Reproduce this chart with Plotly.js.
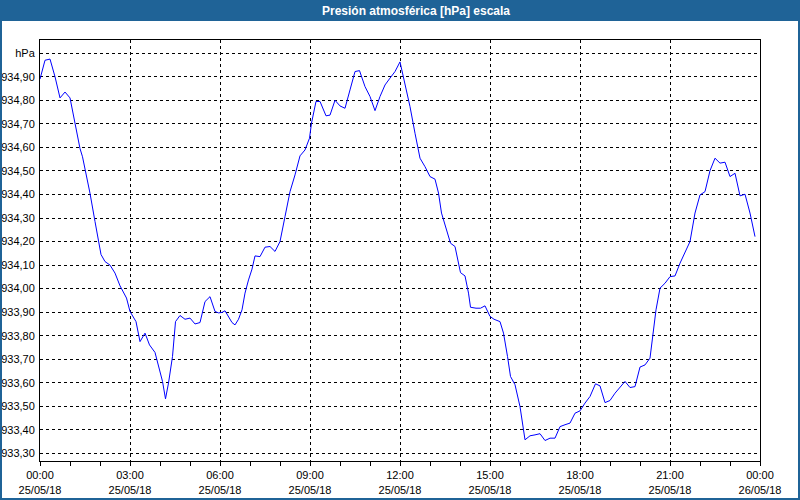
<!DOCTYPE html>
<html>
<head>
<meta charset="utf-8">
<script src="https://cdn.plot.ly/plotly-3.0.1.min.js"></script>
<style>
html,body{margin:0;padding:0;background:#fff;}
#chart{width:800px;height:500px;}
</style>
</head>
<body>
<div id="chart"></div>
<script>
// Minutes after 25/05/18 00:00
var minutes = [0,10,20,30,40,50,60,70,80,85,90,100,110,117,122,130,140,150,160,173,180,192,200,210,219,230,237,245,251,257,265,271,280,290,300,310,320,330,340,350,357,364,370,377,384,390,397,404,410,417,424,430,440,450,460,470,480,490,500,510,520,530,539,543,552,560,572,580,590,600,610,620,630,639,650,660,670,680,690,700,710,720,730,740,750,760,770,780,790,797,803,813,821,830,835,841,850,857,861,872,881,890,900,908,920,927,935,941,950,960,970,980,990,1000,1010,1020,1030,1040,1050,1060,1070,1080,1090,1100,1111,1120,1130,1140,1150,1160,1170,1180,1190,1200,1210,1220,1225,1232,1240,1250,1260,1270,1280,1290,1300,1310,1320,1330,1340,1350,1360,1370,1380,1390,1400,1410,1420,1430];
var pressure = [934.89,934.97,934.975,934.90,934.81,934.835,934.81,934.70,934.595,934.56,934.51,934.405,934.285,934.20,934.145,934.115,934.10,934.066,934.012,933.96,933.903,933.86,933.775,933.811,933.761,933.729,933.669,933.606,933.532,933.599,933.712,933.86,933.886,933.87,933.875,933.85,933.856,933.945,933.966,933.903,933.897,933.899,933.906,933.882,933.856,933.846,933.87,933.91,933.981,934.037,934.083,934.139,934.136,934.176,934.179,934.158,934.20,934.306,934.412,934.483,934.564,934.589,934.639,934.703,934.795,934.795,934.734,934.737,934.80,934.776,934.766,934.844,934.922,934.926,934.858,934.816,934.756,934.816,934.865,934.894,934.922,934.963,934.873,934.773,934.660,934.554,934.518,934.476,934.465,934.406,934.321,934.25,934.193,934.179,934.13,934.068,934.054,933.981,933.921,933.917,933.917,933.927,933.882,933.870,933.860,933.811,933.712,933.627,933.592,933.499,933.358,933.375,933.379,933.384,933.355,933.365,933.365,933.414,933.422,933.429,933.471,933.481,933.514,933.542,933.596,933.587,933.516,933.525,933.556,933.58,933.606,933.58,933.584,933.667,933.676,933.705,933.797,933.91,934.002,934.023,934.051,934.054,934.108,934.151,934.20,934.321,934.398,934.412,934.501,934.554,934.533,934.537,934.476,934.49,934.394,934.401,934.321,934.221];

var xTickVals = ['2018-05-25 00:00','2018-05-25 03:00','2018-05-25 06:00','2018-05-25 09:00','2018-05-25 12:00','2018-05-25 15:00','2018-05-25 18:00','2018-05-25 21:00','2018-05-26 00:00'];
var xTickText = ['00:00<br>25/05/18','03:00<br>25/05/18','06:00<br>25/05/18','09:00<br>25/05/18','12:00<br>25/05/18','15:00<br>25/05/18','18:00<br>25/05/18','21:00<br>25/05/18','00:00<br>26/05/18'];
var yTickVals = [933.3,933.4,933.5,933.6,933.7,933.8,933.9,934.0,934.1,934.2,934.3,934.4,934.5,934.6,934.7,934.8,934.9,935.0];
var yTickText = ['933,30','933,40','933,50','933,60','933,70','933,80','933,90','934,00','934,10','934,20','934,30','934,40','934,50','934,60','934,70','934,80','934,90','hPa'];

function pad(n){return (n<10?'0':'')+n;}
var times = minutes.map(function(m){
  var h = Math.floor(m/60), mm = m%60;
  return '2018-05-25 ' + pad(h) + ':' + pad(mm);
});

var frameBlue = '#1f6397';
var tickFont = {family:'Liberation Sans, Arial, sans-serif', size:11, color:'#000'};

var trace = {
  x: times, y: pressure, type:'scatter', mode:'lines',
  line:{color:'#0000ff', width:1}, hoverinfo:'skip'
};

var layout = {
  width:800, height:500,
  margin:{l:40, r:40, t:40, b:39, pad:0},
  paper_bgcolor:'#ffffff', plot_bgcolor:'#ffffff',
  showlegend:false,
  title:{
    text:'Presión atmosférica [hPa] escala',
    font:{family:'Liberation Sans, Arial, sans-serif', size:12, color:'#ffffff', weight:'bold'},
    xref:'container', yref:'container', x:0.52, xanchor:'center', y:0.979, yanchor:'middle'
  },
  xaxis:{
    type:'date',
    range:['2018-05-25 00:00','2018-05-26 00:00'],
    tickmode:'array', tickvals:xTickVals, ticktext:xTickText,
    ticks:'outside', ticklen:4, tickcolor:'#000', tickwidth:1,
    showgrid:true, gridcolor:'#000', gridwidth:1, griddash:'3px,3px',
    showline:true, linecolor:'#000', linewidth:1, mirror:true,
    zeroline:false, tickfont:tickFont, tickangle:0,
    minor:{tickmode:'linear', tick0:'2018-05-25 00:00', dtick:3600000, ticks:'outside', ticklen:4, tickcolor:'#000', showgrid:false}
  },
  yaxis:{
    range:[933.268, 935.056],
    tickmode:'array', tickvals:yTickVals, ticktext:yTickText,
    ticks:'', ticklabelstandoff:2,
    showgrid:true, gridcolor:'#000', gridwidth:1, griddash:'3px,3px',
    showline:true, linecolor:'#000', linewidth:1, mirror:true,
    zeroline:false, tickfont:tickFont
  },
  shapes:[
    {type:'rect', xref:'paper', yref:'paper', x0:-0.06, x1:1.06, y0:1.04513, y1:1.2,
     fillcolor:frameBlue, line:{width:0}, layer:'below'},
    {type:'rect', xref:'paper', yref:'paper', x0:-0.05417, x1:1.05417, y0:-0.09026, y1:1.095,
     fillcolor:'rgba(0,0,0,0)', line:{width:2, color:frameBlue}, layer:'above'}
  ]
};

Plotly.newPlot('chart', [trace], layout, {staticPlot:true, displayModeBar:false});
</script>
</body>
</html>
